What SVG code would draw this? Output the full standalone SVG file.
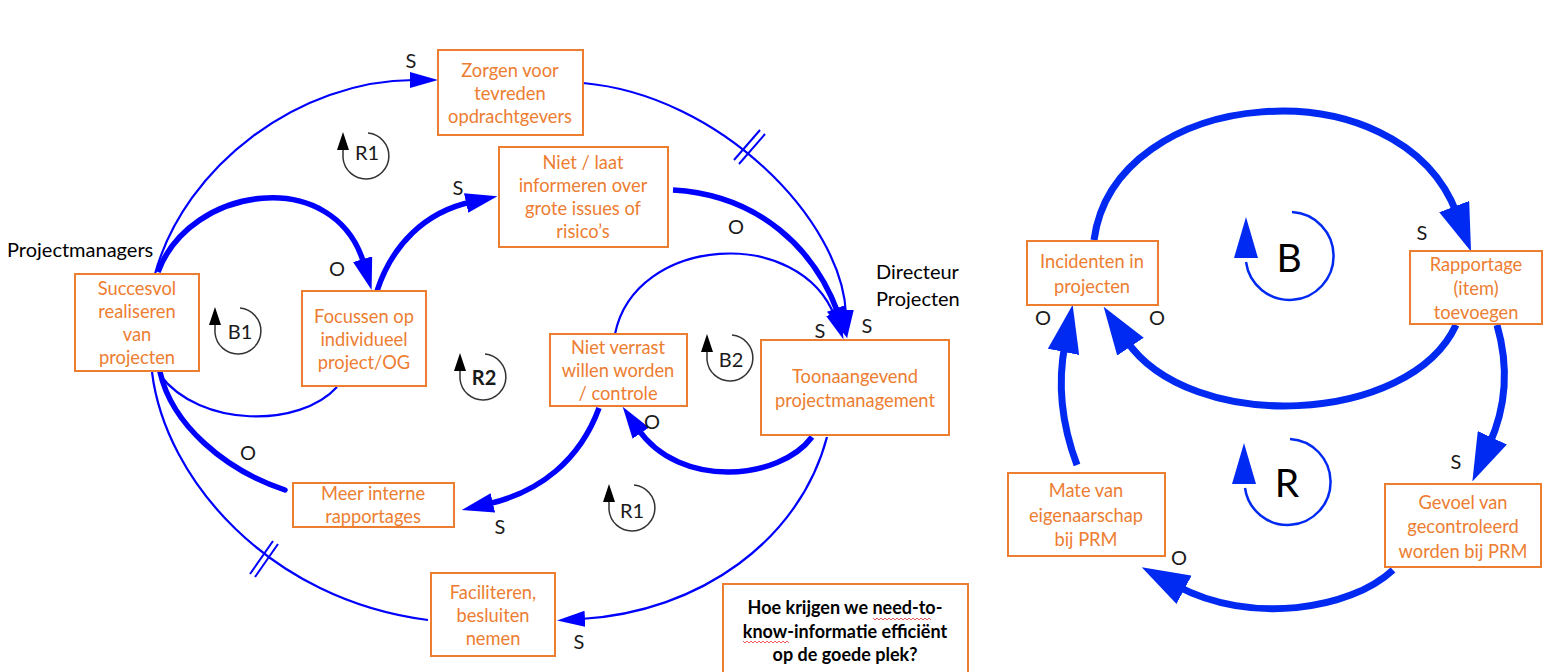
<svg xmlns="http://www.w3.org/2000/svg" width="1547" height="672" viewBox="0 0 1547 672">
<style>
.box{fill:#fff;stroke:#ED7D31;stroke-width:2}
.t{font-family:Lato,"Open Sans","Liberation Sans",sans-serif;font-size:18.3px;fill:#ED7D31;text-anchor:middle}
.q{font-family:Lato,"Open Sans","Liberation Sans",sans-serif;font-size:18px;font-weight:bold;fill:#000;text-anchor:middle}
.lbl{font-family:Lato,"Open Sans","Liberation Sans",sans-serif;font-size:20px;fill:#1a1a1a;text-anchor:middle}
.actor{font-family:Lato,"Open Sans","Liberation Sans",sans-serif;font-size:20px;fill:#000}
.loopt{font-family:Lato,"Open Sans","Liberation Sans",sans-serif;font-size:20px;fill:#1a1a1a;text-anchor:middle}
.big{font-family:Lato,"Open Sans","Liberation Sans",sans-serif;font-size:39px;fill:#000;text-anchor:middle}
.thin{fill:none;stroke:#0000FF;stroke-width:2.2}
.thick{fill:none;stroke:#0000FF;stroke-width:5.5}
.rthick{fill:none;stroke:#0029F2;stroke-width:7}
.hash{stroke:#0000FF;stroke-width:2}
</style>
<defs>
<marker id="ahThin" markerUnits="userSpaceOnUse" markerWidth="28" markerHeight="16" viewBox="0 0 28 16" refX="4" refY="8" orient="auto"><path d="M0,0 L28,8 L0,16 z" fill="#0000FF"/></marker>
<marker id="ahThick" markerUnits="userSpaceOnUse" markerWidth="32" markerHeight="20" viewBox="0 0 32 20" refX="5" refY="10" orient="auto"><path d="M0,0 L32,10 L0,20 z" fill="#0000FF"/></marker>
<marker id="ahBig" markerUnits="userSpaceOnUse" markerWidth="48" markerHeight="32" viewBox="0 0 48 32" refX="8" refY="16" orient="auto"><path d="M0,0 L48,16 L0,32 z" fill="#0029F2"/></marker>
<g id="loopSmall">
<path d="M2,-23 A23 23 0 1 1 -23,2 L-23,-8" fill="none" stroke="#333" stroke-width="1.5"/>
<path d="M-23,-24 L-29,-6 L-17,-6 z" fill="#000"/>
</g>
</defs>
<rect width="1547" height="672" fill="#fff"/>

<g id="connectors">
<path class="thin" d="M155,274 C185,165 300,80 414,80" marker-end="url(#ahThin)"/>
<path class="thin" d="M583,83 C720,95 842,220 846,314" marker-end="url(#ahThin)"/>
<path class="thick" d="M673,190 C760,195 815,250 838,313" marker-end="url(#ahThick)"/>
<path class="thin" d="M615,334 C635,235 800,225 835,317" marker-end="url(#ahThin)"/>
<path class="thick" d="M158,272 C190,185 335,165 364,264" marker-end="url(#ahThick)"/>
<path class="thick" d="M377,291 C392,245 425,212 471,202" marker-end="url(#ahThick)"/>
<path class="thick" d="M812,437 C780,480 680,490 638,429" marker-end="url(#ahThick)"/>
<path class="thick" d="M599,408 C580,460 540,492 488,504" marker-end="url(#ahThick)"/>
<path class="thin" d="M827,437 C800,540 700,612 581,619" marker-end="url(#ahThin)"/>
<path class="thick" d="M160,372 C172,425 225,470 285,490" stroke-linecap="round"/>
<path class="thin" d="M152,372 C165,480 270,600 428,620"/>
<path class="thin" d="M337,387 C300,428 200,428 160,375"/>
<line class="hash" x1="734" y1="160" x2="760" y2="130"/>
<line class="hash" x1="739" y1="164" x2="765" y2="134"/>
<line class="hash" x1="250" y1="574" x2="273" y2="541"/>
<line class="hash" x1="255" y1="577" x2="278" y2="544"/>
<path class="rthick" d="M1094,240 C1115,85 1400,62 1457,214" marker-end="url(#ahBig)"/>
<path class="rthick" d="M1497,325 C1510,370 1505,410 1489,445" marker-end="url(#ahBig)"/>
<path class="rthick" d="M1393,570 C1350,610 1250,625 1177,586" marker-end="url(#ahBig)"/>
<path class="rthick" d="M1077,465 C1060,420 1058,380 1065,344" marker-end="url(#ahBig)"/>
<path class="rthick" d="M1456,325 C1410,425 1190,435 1126,340" marker-end="url(#ahBig)"/>
</g>

<g id="polarity">
<text class="lbl" x="411" y="68">S</text>
<text class="lbl" x="458" y="195">S</text>
<text class="lbl" x="337" y="276">O</text>
<text class="lbl" x="736" y="234">O</text>
<text class="lbl" x="820" y="338">S</text>
<text class="lbl" x="867" y="333">S</text>
<text class="lbl" x="652" y="429">O</text>
<text class="lbl" x="248" y="460">O</text>
<text class="lbl" x="500" y="534">S</text>
<text class="lbl" x="579" y="649">S</text>
<text class="lbl" x="1422" y="240">S</text>
<text class="lbl" x="1043" y="325">O</text>
<text class="lbl" x="1157" y="325">O</text>
<text class="lbl" x="1456" y="469">S</text>
<text class="lbl" x="1179" y="565">O</text>
</g>

<g id="loops">
<use href="#loopSmall" x="366" y="156"/><text class="loopt" x="367" y="160">R1</text>
<use href="#loopSmall" x="238" y="331"/><text class="loopt" x="240" y="339">B1</text>
<use href="#loopSmall" x="483" y="377"/><text class="loopt" x="484" y="385" font-weight="bold">R2</text>
<use href="#loopSmall" x="730" y="358"/><text class="loopt" x="731" y="367">B2</text>
<use href="#loopSmall" x="632" y="508"/><text class="loopt" x="632" y="518">R1</text>
<path d="M1292,212 A44 44 0 1 1 1246,262" fill="none" stroke="#0029F2" stroke-width="2.5"/>
<path d="M1246,217 L1234,258 L1258,258 z" fill="#0029F2"/>
<text class="big" x="1289" y="272">B</text>
<path d="M1290,439 A43 43 0 1 1 1245,488" fill="none" stroke="#0029F2" stroke-width="2.5"/>
<path d="M1244,443 L1232,484 L1256,484 z" fill="#0029F2"/>
<text class="big" x="1287" y="497">R</text>
</g>

<g id="actors">
<text class="actor" x="7" y="257">Projectmanagers</text>
<text class="actor" x="876" y="279">Directeur</text>
<text class="actor" x="876" y="306">Projecten</text>
</g>

<g id="n-zorgen"><rect class="box" x="438" y="50" width="145" height="85"/>
<text class="t" x="510" y="77">Zorgen voor</text><text class="t" x="510" y="100">tevreden</text><text class="t" x="510" y="123">opdrachtgevers</text></g>

<g id="n-nietlaat"><rect class="box" x="499" y="147" width="169" height="100"/>
<text class="t" x="583" y="169">Niet / laat</text><text class="t" x="583" y="192">informeren over</text><text class="t" x="583" y="215">grote issues of</text><text class="t" x="583" y="238">risico’s</text></g>

<g id="n-succesvol"><rect class="box" x="75" y="274" width="124" height="97"/>
<text class="t" x="137" y="295">Succesvol</text><text class="t" x="137" y="318">realiseren</text><text class="t" x="137" y="341">van</text><text class="t" x="137" y="364">projecten</text></g>

<g id="n-focussen"><rect class="box" x="302" y="291" width="124" height="95"/>
<text class="t" x="364" y="323">Focussen op</text><text class="t" x="364" y="346">individueel</text><text class="t" x="364" y="369">project/OG</text></g>

<g id="n-nietverrast"><rect class="box" x="550" y="334" width="137" height="72"/>
<text class="t" x="618" y="354">Niet verrast</text><text class="t" x="618" y="377">willen worden</text><text class="t" x="618" y="400">/ controle</text></g>

<g id="n-toonaangevend"><rect class="box" x="761" y="340" width="188" height="95"/>
<text class="t" x="855" y="383">Toonaangevend</text><text class="t" x="855" y="407">projectmanagement</text></g>

<g id="n-meer"><rect class="box" x="293" y="483" width="161" height="44"/>
<text class="t" x="373" y="500">Meer interne</text><text class="t" x="373" y="523">rapportages</text></g>

<g id="n-faciliteren"><rect class="box" x="431" y="573" width="124" height="83"/>
<text class="t" x="493" y="599">Faciliteren,</text><text class="t" x="493" y="622">besluiten</text><text class="t" x="493" y="645">nemen</text></g>

<g id="n-vraag"><rect class="box" x="723" y="584" width="245" height="100"/>
<text class="q" x="845" y="614">Hoe krijgen we need-to-</text><text class="q" x="845" y="638">know-informatie efficiënt</text><text class="q" x="845" y="661">op de goede plek?</text>
<path d="M873,618 l2,2 l2,-2 l2,2 l2,-2 l2,2 l2,-2 l2,2 l2,-2 l2,2 l2,-2 l2,2 l2,-2 l2,2 l2,-2 l2,2 l2,-2 l2,2 l2,-2 l2,2 l2,-2 l2,2 l2,-2 l2,2 l2,-2 l2,2 l2,-2 l2,2 l2,-2 l2,2" fill="none" stroke="#e03030" stroke-width="0.8"/>
<path d="M743,641 l2,2 l2,-2 l2,2 l2,-2 l2,2 l2,-2 l2,2 l2,-2 l2,2 l2,-2 l2,2 l2,-2 l2,2 l2,-2 l2,2 l2,-2 l2,2 l2,-2 l2,2 l2,-2 l2,2 l2,-2 l2,2" fill="none" stroke="#e03030" stroke-width="0.8"/></g>

<g id="n-incidenten"><rect class="box" x="1027" y="241" width="131" height="64"/>
<text class="t" x="1092" y="268">Incidenten in</text><text class="t" x="1092" y="293">projecten</text></g>

<g id="n-rapportage"><rect class="box" x="1410" y="251" width="132" height="73"/>
<text class="t" x="1476" y="271">Rapportage</text><text class="t" x="1476" y="295">(item)</text><text class="t" x="1476" y="319">toevoegen</text></g>

<g id="n-mate"><rect class="box" x="1008" y="473" width="157" height="83"/>
<text class="t" x="1086" y="497">Mate van</text><text class="t" x="1086" y="522">eigenaarschap</text><text class="t" x="1086" y="546">bij PRM</text></g>

<g id="n-gevoel"><rect class="box" x="1385" y="484" width="156" height="83"/>
<text class="t" x="1463" y="509">Gevoel van</text><text class="t" x="1463" y="533">gecontroleerd</text><text class="t" x="1463" y="558">worden bij PRM</text></g>
</svg>
